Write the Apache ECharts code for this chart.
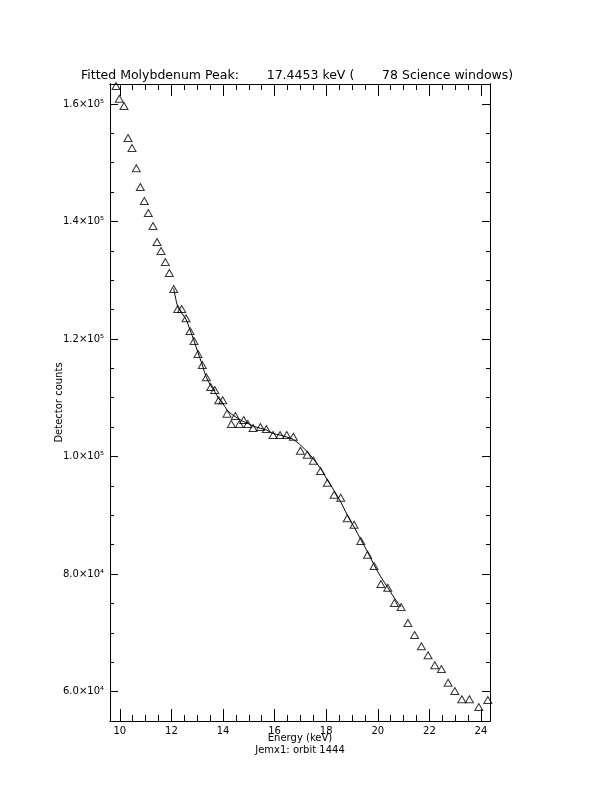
<!DOCTYPE html>
<html>
<head>
<meta charset="utf-8">
<script src="https://cdn.jsdelivr.net/npm/echarts@6/dist/echarts.min.js"></script>
<style>html,body{margin:0;padding:0;background:#fff}#c{width:612px;height:792px}</style>
</head>
<body>
<div id="c"></div>
<script>
// Data
const energy = [9.853, 9.981, 10.163, 10.318, 10.473, 10.640, 10.795, 10.950, 11.105, 11.287,
  11.442, 11.598, 11.764, 11.919, 12.090, 12.245, 12.400, 12.567, 12.722, 12.877,
  13.032, 13.199, 13.354, 13.525, 13.680, 13.835, 13.990, 14.157, 14.323, 14.478,
  14.634, 14.804, 14.959, 15.165, 15.448, 15.680, 15.940, 16.212, 16.472, 16.727,
  16.999, 17.266, 17.503, 17.782, 18.046, 18.305, 18.565, 18.817, 19.081, 19.341,
  19.605, 19.857, 20.120, 20.388, 20.644, 20.903, 21.167, 21.427, 21.691, 21.950,
  22.210, 22.466, 22.726, 22.986, 23.257, 23.552, 23.916, 24.265];
const counts = [163060, 160900, 159660, 154210, 152510, 149060, 145870, 143490, 141450, 139230,
  136510, 134980, 133110, 131240, 128510, 125110, 125110, 123520, 121360, 119660,
  117450, 115580, 113480, 111830, 111320, 109570, 109570, 107290, 105530, 106890,
  105530, 106210, 105530, 104850, 105020, 104680, 103660, 103660, 103660, 103370,
  100990, 100310, 99290, 97530, 95540, 93500, 92970, 89480, 88380, 85620,
  83270, 81360, 78300, 77670, 75070, 74380, 71660, 69620, 67710, 66180,
  64480, 63830, 61500, 60090, 58670, 58670, 57360, 58560];
const fitEnergy = [12.090, 12.245, 12.400, 12.567, 12.722, 12.877, 13.032, 13.199, 13.354, 13.525,
  13.680, 13.835, 13.990, 14.157, 14.323, 14.478, 14.634, 14.804, 14.959, 15.165,
  15.448, 15.680, 15.940, 16.212, 16.472, 16.727, 16.999, 17.266, 17.503, 17.782,
  18.046, 18.305, 18.565, 18.817, 19.081, 19.341, 19.605, 19.857, 20.120, 20.388,
  20.644, 20.903];
const fitCounts = [128600, 125500, 124380, 123350, 121530, 119710, 117670, 115580, 113480, 112050,
  111030, 109840, 109060, 107920, 107240, 106780, 106330, 105920, 105650, 105190,
  104800, 104510, 103920, 103660, 103320, 102900, 101960, 100820, 99580, 97960,
  96000, 94210, 92260, 90040, 88000, 85870, 83750, 81530, 79490, 77700,
  75920, 74380];
const xMajor = [10, 12, 14, 16, 18, 20, 22, 24];
const yMajor = [60000, 80000, 100000, 120000, 140000, 160000];
const titleText = 'Fitted Molybdenum Peak:       17.4453 keV (       78 Science windows)';
const xTitle = 'Energy (keV)';
const subTitle = 'Jemx1: orbit 1444';
const yTitle = 'Detector counts';

const xMin = 9.62, xMax = 24.35, yMin = 54980, yMax = 163400;
const xMinor = []; for (let v = 10; v <= 24.001; v += 0.5) xMinor.push(+v.toFixed(1));
const yMinor = []; for (let v = 55000; v <= 163000; v += 5000) yMinor.push(v);

const FONT = 'DejaVu Sans';
const sup = {'0':'⁰','1':'¹','2':'²','3':'³','4':'⁴','5':'⁵','6':'⁶','7':'⁷','8':'⁸','9':'⁹'};
function yFmt(v) {
  const e = Math.floor(Math.log10(v) + 1e-9);
  const m = (v / Math.pow(10, e)).toFixed(1);
  return m + '×10' + String(e).split('').map(c => sup[c]).join('');
}

function xAx(pos, ticks, len, labels, extra) {
  return Object.assign({
    type: 'value', position: pos, min: xMin, max: xMax, gridIndex: 0,
    axisLine: { show: true, onZero: false, lineStyle: { color: '#000', width: 1 } },
    axisTick: { show: true, inside: true, length: len, customValues: ticks, lineStyle: { color: '#000', width: 1 } },
    axisLabel: labels ? { show: true, customValues: xMajor, color: '#000', fontFamily: FONT, fontSize: 10, margin: 5 } : { show: false },
    splitLine: { show: false }
  }, extra || {});
}
function yAx(pos, ticks, len, labels, extra) {
  return Object.assign({
    type: 'value', position: pos, min: yMin, max: yMax, gridIndex: 0,
    axisLine: { show: true, onZero: false, lineStyle: { color: '#000', width: 1 } },
    axisTick: { show: true, inside: true, length: len, customValues: ticks, lineStyle: { color: '#000', width: 1 } },
    axisLabel: labels ? { show: true, customValues: yMajor, formatter: yFmt, color: '#000', fontFamily: FONT, fontSize: 10, margin: 6 } : { show: false },
    splitLine: { show: false }
  }, extra || {});
}

const chart = echarts.init(document.getElementById('c'), null, { renderer: 'canvas' });
chart.setOption({
  backgroundColor: '#fff',
  animation: false,
  title: {
    text: titleText, left: 76, top: 64,
    textStyle: { color: '#000', fontFamily: FONT, fontSize: 12.5, fontWeight: 'normal' }
  },
  grid: { left: 110, right: 122, top: 84, bottom: 71 },
  xAxis: [
    xAx('bottom', xMajor, 12, true, {
      name: xTitle + '\n' + subTitle, nameLocation: 'middle', nameGap: 11, nameMoveOverlap: false,
      nameTextStyle: { color: '#000', fontFamily: FONT, fontSize: 10, lineHeight: 12, verticalAlign: 'top' }
    }),
    xAx('bottom', xMinor, 6, false),
    xAx('top', xMajor, 12, false),
    xAx('top', xMinor, 6, false)
  ],
  yAxis: [
    yAx('left', yMajor, 8, true, {
      name: yTitle, nameLocation: 'middle', nameGap: 46, nameRotate: 90, nameMoveOverlap: false,
      nameTextStyle: { color: '#000', fontFamily: FONT, fontSize: 10 }
    }),
    yAx('left', yMinor, 4, false),
    yAx('right', yMajor, 8, false),
    yAx('right', yMinor, 4, false)
  ],
  series: [
    {
      type: 'line', xAxisIndex: 0, yAxisIndex: 0,
      data: fitEnergy.map((e, i) => [e, fitCounts[i]]),
      showSymbol: false, smooth: 0.3,
      lineStyle: { color: '#000', width: 1 }, z: 2
    },
    {
      type: 'scatter', xAxisIndex: 0, yAxisIndex: 0,
      data: energy.map((e, i) => [e, counts[i]]),
      symbol: 'triangle', symbolSize: [8, 7],
      itemStyle: { color: 'rgba(0,0,0,0)', borderColor: '#000', borderWidth: 1 }, z: 3
    }
  ]
});
</script>
</body>
</html>
